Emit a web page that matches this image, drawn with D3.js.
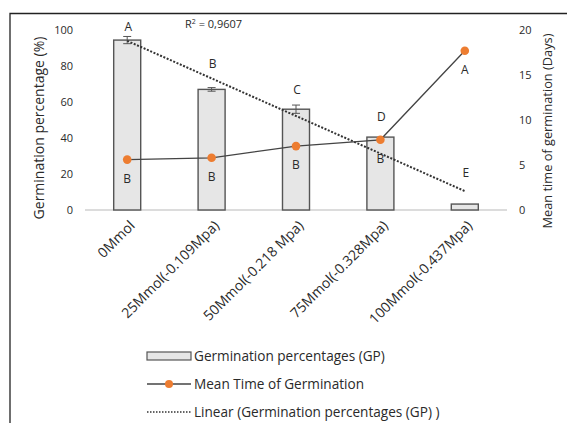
<!DOCTYPE html>
<html lang="en">
<head>
<meta charset="UTF-8">
<title>Germination</title>
<script src="https://d3js.org/d3.v7.min.js"></script>
<style>
  body { margin: 0; background: #fff; }
  text { font-family: "Open Sans", sans-serif; fill: #2a2a2a; }
</style>
</head>
<body>
<div id="chart"></div>
<script>
// data
const categories = ["0Mmol", "25Mmol(-0.109Mpa)", "50Mmol(-0.218 Mpa)", "75Mmol(-0.328Mpa)", "100Mmol(-0.437Mpa)"];
const gp = [94.4, 67, 56, 40.5, 3.3];
const gpErr = [2, 1, 2.3, 0, 0];
const gpLetters = ["A", "B", "C", "D", "E"];
const mtg = [5.6, 5.8, 7.1, 7.8, 17.7];
const mtgLetters = ["B", "B", "B", "B", "A"];
const leftTicks = [0, 20, 40, 60, 80, 100];
const rightTicks = [0, 5, 10, 15, 20];

const W = 567, H = 423;
const svg = d3.select("#chart").append("svg")
    .attr("width", W).attr("height", H);

// outer frame (top + left only)
svg.append("path")
    .attr("d", `M10,${H} L10,13.5 L${W},13.5`)
    .attr("fill", "none").attr("stroke", "#222").attr("stroke-width", 1.3);

const x = d3.scaleBand().domain(categories).range([85, 507]).paddingInner(0.68).paddingOuter(0.34);
const yL = d3.scaleLinear().domain([0, 100]).range([210, 30]);
const yR = d3.scaleLinear().domain([0, 20]).range([210, 30]);
const cx = d => x(d) + x.bandwidth() / 2;

// left axis
const gL = svg.append("g").attr("transform", "translate(78,0)")
    .call(d3.axisLeft(yL).tickValues(leftTicks).tickSize(0).tickPadding(5));
gL.select(".domain").remove();
gL.selectAll("text").style("font-size", "11px").attr("fill", "#2a2a2a");

// right axis
const gR = svg.append("g").attr("transform", "translate(519,0)")
    .call(d3.axisRight(yR).tickValues(rightTicks).tickSize(0).tickPadding(0));
gR.select(".domain").remove();
gR.selectAll("text").style("font-size", "11px").attr("fill", "#2a2a2a");

// baseline
svg.append("line").attr("x1", 85).attr("x2", 507).attr("y1", yL(0)).attr("y2", yL(0))
    .attr("stroke", "#d0d0d0").attr("stroke-width", 1.3);

// bars
svg.selectAll("rect.bar").data(gp).join("rect")
    .attr("class", "bar")
    .attr("x", (d, i) => x(categories[i]))
    .attr("y", d => yL(d))
    .attr("width", x.bandwidth())
    .attr("height", d => yL(0) - yL(d))
    .attr("fill", "#e6e6e6").attr("stroke", "#555").attr("stroke-width", 1.4);

// error bars
const eb = svg.append("g").attr("stroke", "#555").attr("stroke-width", 1);
gp.forEach((v, i) => {
  if (!gpErr[i]) return;
  const c = cx(categories[i]);
  eb.append("line").attr("x1", c).attr("x2", c).attr("y1", yL(v + gpErr[i])).attr("y2", yL(v - gpErr[i]));
  eb.append("line").attr("x1", c - 4).attr("x2", c + 4).attr("y1", yL(v + gpErr[i])).attr("y2", yL(v + gpErr[i]));
  eb.append("line").attr("x1", c - 4).attr("x2", c + 4).attr("y1", yL(v - gpErr[i])).attr("y2", yL(v - gpErr[i]));
});

// linear trend of GP
const n = gp.length, xs = d3.range(1, n + 1);
const mx = d3.mean(xs), my = d3.mean(gp);
const slope = d3.sum(xs, (v, i) => (v - mx) * (gp[i] - my)) / d3.sum(xs, v => (v - mx) ** 2);
const icpt = my - slope * mx;
svg.append("line")
    .attr("x1", cx(categories[0])).attr("y1", yL(icpt + slope * 1))
    .attr("x2", cx(categories[n - 1])).attr("y2", yL(icpt + slope * n))
    .attr("stroke", "#333").attr("stroke-width", 2).attr("stroke-dasharray", "2,1.6");

// MTG line + dots
const line = d3.line().x((d, i) => cx(categories[i])).y(d => yR(d));
svg.append("path").datum(mtg).attr("d", line)
    .attr("fill", "none").attr("stroke", "#444").attr("stroke-width", 1.3);
svg.selectAll("circle.mtg").data(mtg).join("circle")
    .attr("class", "mtg")
    .attr("cx", (d, i) => cx(categories[i])).attr("cy", d => yR(d))
    .attr("r", 4.3).attr("fill", "#ED7D31");

// letters
const gpLabelOff = [10, 24, 15, 20, 31];
svg.selectAll("text.gpl").data(gpLetters).join("text")
    .attr("class", "gpl")
    .attr("x", (d, i) => cx(categories[i]) + 1)
    .attr("y", (d, i) => yL(gp[i] + gpErr[i]) - gpLabelOff[i])
    .attr("text-anchor", "middle").attr("dy", "0.35em")
    .style("font-size", "12px").text(d => d);
svg.selectAll("text.mtl").data(mtgLetters).join("text")
    .attr("class", "mtl")
    .attr("x", (d, i) => cx(categories[i]))
    .attr("y", (d, i) => yR(mtg[i]) + 19)
    .attr("text-anchor", "middle").attr("dy", "0.35em")
    .style("font-size", "12px").text(d => d);

// R2
svg.append("text").attr("x", 185).attr("y", 28).style("font-size", "11px")
    .html('R<tspan dy="-4" style="font-size:7px">2</tspan><tspan dy="4"> = 0,9607</tspan>');

// category labels
svg.selectAll("text.cat").data(categories).join("text")
    .attr("class", "cat")
    .attr("transform", d => `translate(${cx(d) + 5},${223}) rotate(-45)`)
    .attr("text-anchor", "end").attr("dy", "0.35em")
    .style("font-size", "14px").text(d => d);

// axis titles
svg.append("text").attr("transform", "translate(39,128) rotate(-90)")
    .attr("text-anchor", "middle").attr("dy", "0.35em")
    .style("font-size", "14px").text("Germination percentage (%)");
svg.append("text").attr("transform", "translate(548,131) rotate(-90)")
    .attr("text-anchor", "middle").attr("dy", "0.35em")
    .style("font-size", "12.8px").text("Mean time of germination (Days)");

// legend
const leg = svg.append("g");
const legX = 147, legW = 44;
const legY = [356, 384, 412];
const legTexts = ["Germination percentages (GP)", "Mean Time of Germination", "Linear (Germination percentages (GP)  )"];
leg.append("rect").attr("x", legX).attr("y", legY[0] - 4).attr("width", legW).attr("height", 8)
    .attr("fill", "#e6e6e6").attr("stroke", "#555").attr("stroke-width", 1.2);
leg.append("line").attr("x1", legX).attr("x2", legX + legW).attr("y1", legY[1]).attr("y2", legY[1])
    .attr("stroke", "#444").attr("stroke-width", 1.3);
leg.append("circle").attr("cx", legX + legW / 2).attr("cy", legY[1]).attr("r", 4).attr("fill", "#ED7D31");
leg.append("line").attr("x1", legX).attr("x2", legX + legW).attr("y1", legY[2]).attr("y2", legY[2])
    .attr("stroke", "#333").attr("stroke-width", 1.6).attr("stroke-dasharray", "1.5,1.5");
leg.selectAll("text").data(legTexts).join("text")
    .attr("x", legX + legW + 3).attr("y", (d, i) => legY[i]).attr("dy", "0.35em")
    .style("font-size", "13.6px").text(d => d);
</script>
</body>
</html>
